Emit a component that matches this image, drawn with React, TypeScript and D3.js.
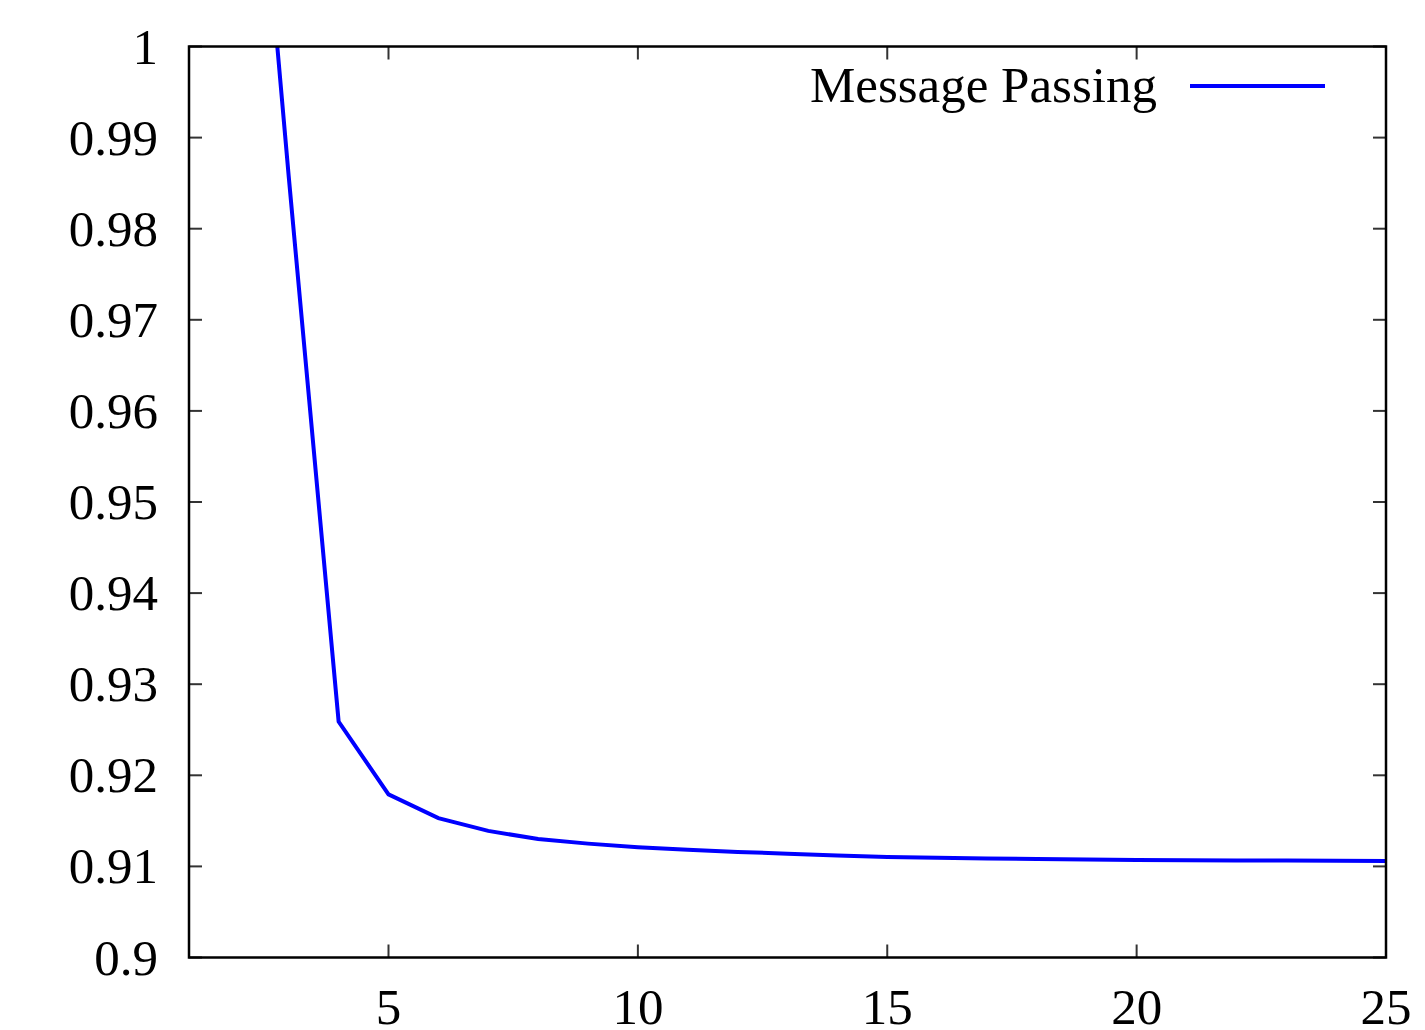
import React, { useEffect, useRef } from "react";
import * as d3 from "d3";

const iterations = [2, 3, 4, 5, 6, 7, 8, 9, 10, 11, 12, 13, 14, 15, 16, 17, 18, 19, 20, 21, 22, 23, 24, 25];
const messagePassing = [1.048, 0.9857, 0.9259, 0.9179, 0.9153, 0.9139, 0.9130, 0.91250, 0.91211, 0.91182, 0.91159,
  0.91140, 0.91120, 0.91104, 0.91094, 0.91088, 0.91082, 0.91076, 0.91071, 0.91068, 0.91066, 0.91064, 0.91062, 0.9106];
const xTicks = [5, 10, 15, 20, 25];
const yTicks = [0.9, 0.91, 0.92, 0.93, 0.94, 0.95, 0.96, 0.97, 0.98, 0.99, 1];
const seriesName = "Message Passing";

const W = 1425, H = 1030;
const margin = { top: 46.5, right: 39, bottom: 72.5, left: 189 };
const font = "'Liberation Serif', 'Times New Roman', serif";
const fontSize = "51px";

function App() {
  const ref = useRef<SVGSVGElement>(null);

  useEffect(() => {
    const svg = d3.select(ref.current);
    svg.selectAll("*").remove();
    const w = W - margin.left - margin.right;
    const h = H - margin.top - margin.bottom;

    const x = d3.scaleLinear().domain([1, 25]).range([margin.left, margin.left + w]);
    const y = d3.scaleLinear().domain([0.9, 1]).range([margin.top + h, margin.top]);

    svg.append("defs").append("clipPath").attr("id", "plotclip")
      .append("rect").attr("x", margin.left).attr("y", margin.top).attr("width", w).attr("height", h);

    const tickLen = 13;
    // inward tick marks, mirrored on all four sides
    const ticks = svg.append("g").attr("stroke", "#333").attr("stroke-width", 2);
    xTicks.forEach(t => {
      ticks.append("line").attr("x1", x(t)).attr("x2", x(t)).attr("y1", margin.top + h).attr("y2", margin.top + h - tickLen);
      ticks.append("line").attr("x1", x(t)).attr("x2", x(t)).attr("y1", margin.top).attr("y2", margin.top + tickLen);
    });
    yTicks.forEach(t => {
      ticks.append("line").attr("x1", margin.left).attr("x2", margin.left + tickLen).attr("y1", y(t)).attr("y2", y(t));
      ticks.append("line").attr("x1", margin.left + w).attr("x2", margin.left + w - tickLen).attr("y1", y(t)).attr("y2", y(t));
    });

    // tick labels
    svg.append("g").selectAll("text").data(xTicks).join("text")
      .attr("x", d => x(d)).attr("y", 1024)
      .attr("text-anchor", "middle")
      .style("font-family", font).style("font-size", fontSize)
      .text(d => String(d));
    svg.append("g").selectAll("text").data(yTicks).join("text")
      .attr("x", 158).attr("y", d => y(d) + 17)
      .attr("text-anchor", "end")
      .style("font-family", font).style("font-size", fontSize)
      .text(d => String(+d.toFixed(2)));

    // series
    const line = d3.line<number>().x((d, i) => x(iterations[i])).y(d => y(d));
    svg.append("path").datum(messagePassing)
      .attr("clip-path", "url(#plotclip)")
      .attr("fill", "none").attr("stroke", "#0000ff").attr("stroke-width", 4)
      .attr("stroke-linejoin", "miter")
      .attr("d", line);

    // border
    svg.append("rect").attr("x", margin.left).attr("y", margin.top).attr("width", w).attr("height", h)
      .attr("fill", "none").attr("stroke", "#000").attr("stroke-width", 2.5);

    // legend
    svg.append("text").attr("x", 1157).attr("y", 102)
      .attr("text-anchor", "end")
      .style("font-family", font).style("font-size", fontSize)
      .text(seriesName);
    svg.append("line").attr("x1", 1190).attr("x2", 1325).attr("y1", 86).attr("y2", 86)
      .attr("stroke", "#0000ff").attr("stroke-width", 4);
  }, []);

  return (
    <div style={{ position: "absolute", left: 0, top: 0 }}>
      <svg ref={ref} width={W} height={H} style={{ display: "block", background: "#fff" }} />
    </div>
  );
}

export default App;
